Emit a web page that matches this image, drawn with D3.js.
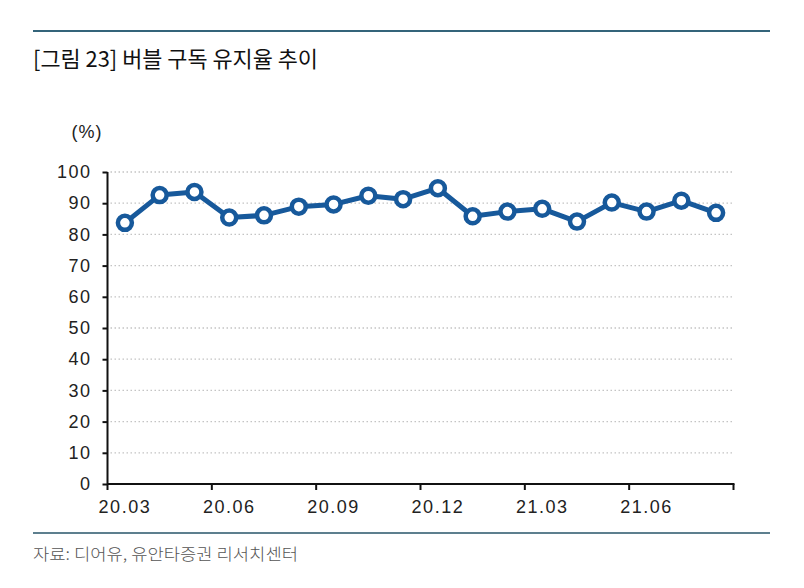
<!DOCTYPE html>
<html><head><meta charset="utf-8">
<script src="https://cdn.jsdelivr.net/npm/d3@7"></script>
<style>body{margin:0;background:#fff}svg{display:block}</style>
</head><body>
<svg id="c" width="804" height="588"></svg>
<script>
const categories = ["20.03","20.04","20.05","20.06","20.07","20.08","20.09","20.10","20.11","20.12","21.01","21.02","21.03","21.04","21.05","21.06","21.07","21.08"];
const retention = [83.7,92.6,93.6,85.4,86.1,88.9,89.6,92.4,91.3,94.8,85.8,87.3,88.2,84.1,90.2,87.3,90.8,86.9];
const tickLabels = ["20.03","20.06","20.09","20.12","21.03","21.06"];
const yTicks = [0,10,20,30,40,50,60,70,80,90,100];
const titleText = "[그림 23] 버블 구독 유지율 추이";
const sourceText = "자료: 디어유, 유안타증권 리서치센터";
const unitText = "(%)";

(function(){
const svg = d3.select("#c");
const pLeft = 107.5, pRight = 733.5, pTop = 172, pBottom = 484;
const x = d3.scaleBand().domain(categories).range([pLeft, pRight]).padding(0);
const y = d3.scaleLinear().domain([0, 100]).range([pBottom, pTop]);
const blue = "#17599b";
const numFont = "'Liberation Sans', Arial, sans-serif";
const krFont = "'Noto Sans CJK KR', sans-serif";

// frame lines
svg.append("line").attr("x1",33).attr("x2",770).attr("y1",31).attr("y2",31).attr("stroke","#34647a").attr("stroke-width",2);
svg.append("line").attr("x1",33).attr("x2",770).attr("y1",533).attr("y2",533).attr("stroke","#5d7f8e").attr("stroke-width",2);

svg.append("text").attr("x",33).attr("y",67).attr("font-family",krFont).attr("font-size",22)
  .attr("fill","#111").attr("textLength",285).attr("lengthAdjust","spacingAndGlyphs").text(titleText);
svg.append("text").attr("x",33).attr("y",560).attr("font-family",krFont).attr("font-size",16).attr("font-weight",300)
  .attr("fill","#555").attr("textLength",265).attr("lengthAdjust","spacingAndGlyphs").text(sourceText);
svg.append("text").attr("x",87).attr("y",138).attr("text-anchor","middle").attr("font-family",numFont)
  .attr("font-size",18).attr("fill","#222").attr("letter-spacing","1px").text(unitText);

// gridlines
svg.append("g").selectAll("line").data(yTicks.filter(d=>d>0)).join("line")
  .attr("x1",pLeft+3).attr("x2",pRight).attr("y1",d=>y(d)).attr("y2",d=>y(d))
  .attr("stroke","#c4c4c4").attr("stroke-width",1.3).attr("stroke-dasharray","1.5,2.5");

// y axis
const yAxis = d3.axisLeft(y).tickValues(yTicks).tickSize(5).tickPadding(11);
const gy = svg.append("g").attr("transform",`translate(${pLeft},0)`).call(yAxis);
gy.select(".domain").attr("stroke","#111").attr("stroke-width",2).attr("d",`M0,${pTop}V${pBottom}`);
gy.selectAll(".tick line").attr("stroke","#111").attr("stroke-width",2);
gy.selectAll("text").attr("font-family",numFont).attr("font-size",18).attr("fill","#222").attr("letter-spacing","1.5px");

// x axis: ticks at band boundaries every 3, labels at band centres
const boundaries = d3.range(0, categories.length + 1, 3);
const gx = svg.append("g");
gx.append("line").attr("x1",pLeft).attr("x2",pRight+1).attr("y1",pBottom).attr("y2",pBottom).attr("stroke","#111").attr("stroke-width",2);
gx.selectAll("line.t").data(boundaries).join("line").attr("class","t")
  .attr("x1",i=>pLeft + i*x.bandwidth()).attr("x2",i=>pLeft + i*x.bandwidth())
  .attr("y1",pBottom).attr("y2",pBottom+6).attr("stroke","#111").attr("stroke-width",2);
gx.selectAll("text").data(tickLabels).join("text")
  .attr("x",d=>x(d)+x.bandwidth()/2).attr("y",pBottom+29).attr("text-anchor","middle")
  .attr("font-family",numFont).attr("font-size",18).attr("fill","#222").attr("letter-spacing","1.5px").text(d=>d);

// line + markers
const pts = categories.map((c,i)=>({c, v: retention[i]}));
svg.append("path").datum(pts).attr("fill","none").attr("stroke",blue).attr("stroke-width",5)
  .attr("stroke-linejoin","round")
  .attr("d", d3.line().x(d=>x(d.c)+x.bandwidth()/2).y(d=>y(d.v)));
svg.append("g").selectAll("circle").data(pts).join("circle")
  .attr("cx",d=>x(d.c)+x.bandwidth()/2).attr("cy",d=>y(d.v)).attr("r",7)
  .attr("fill","#fff").attr("stroke",blue).attr("stroke-width",4.5);
})();
</script>
</body></html>
